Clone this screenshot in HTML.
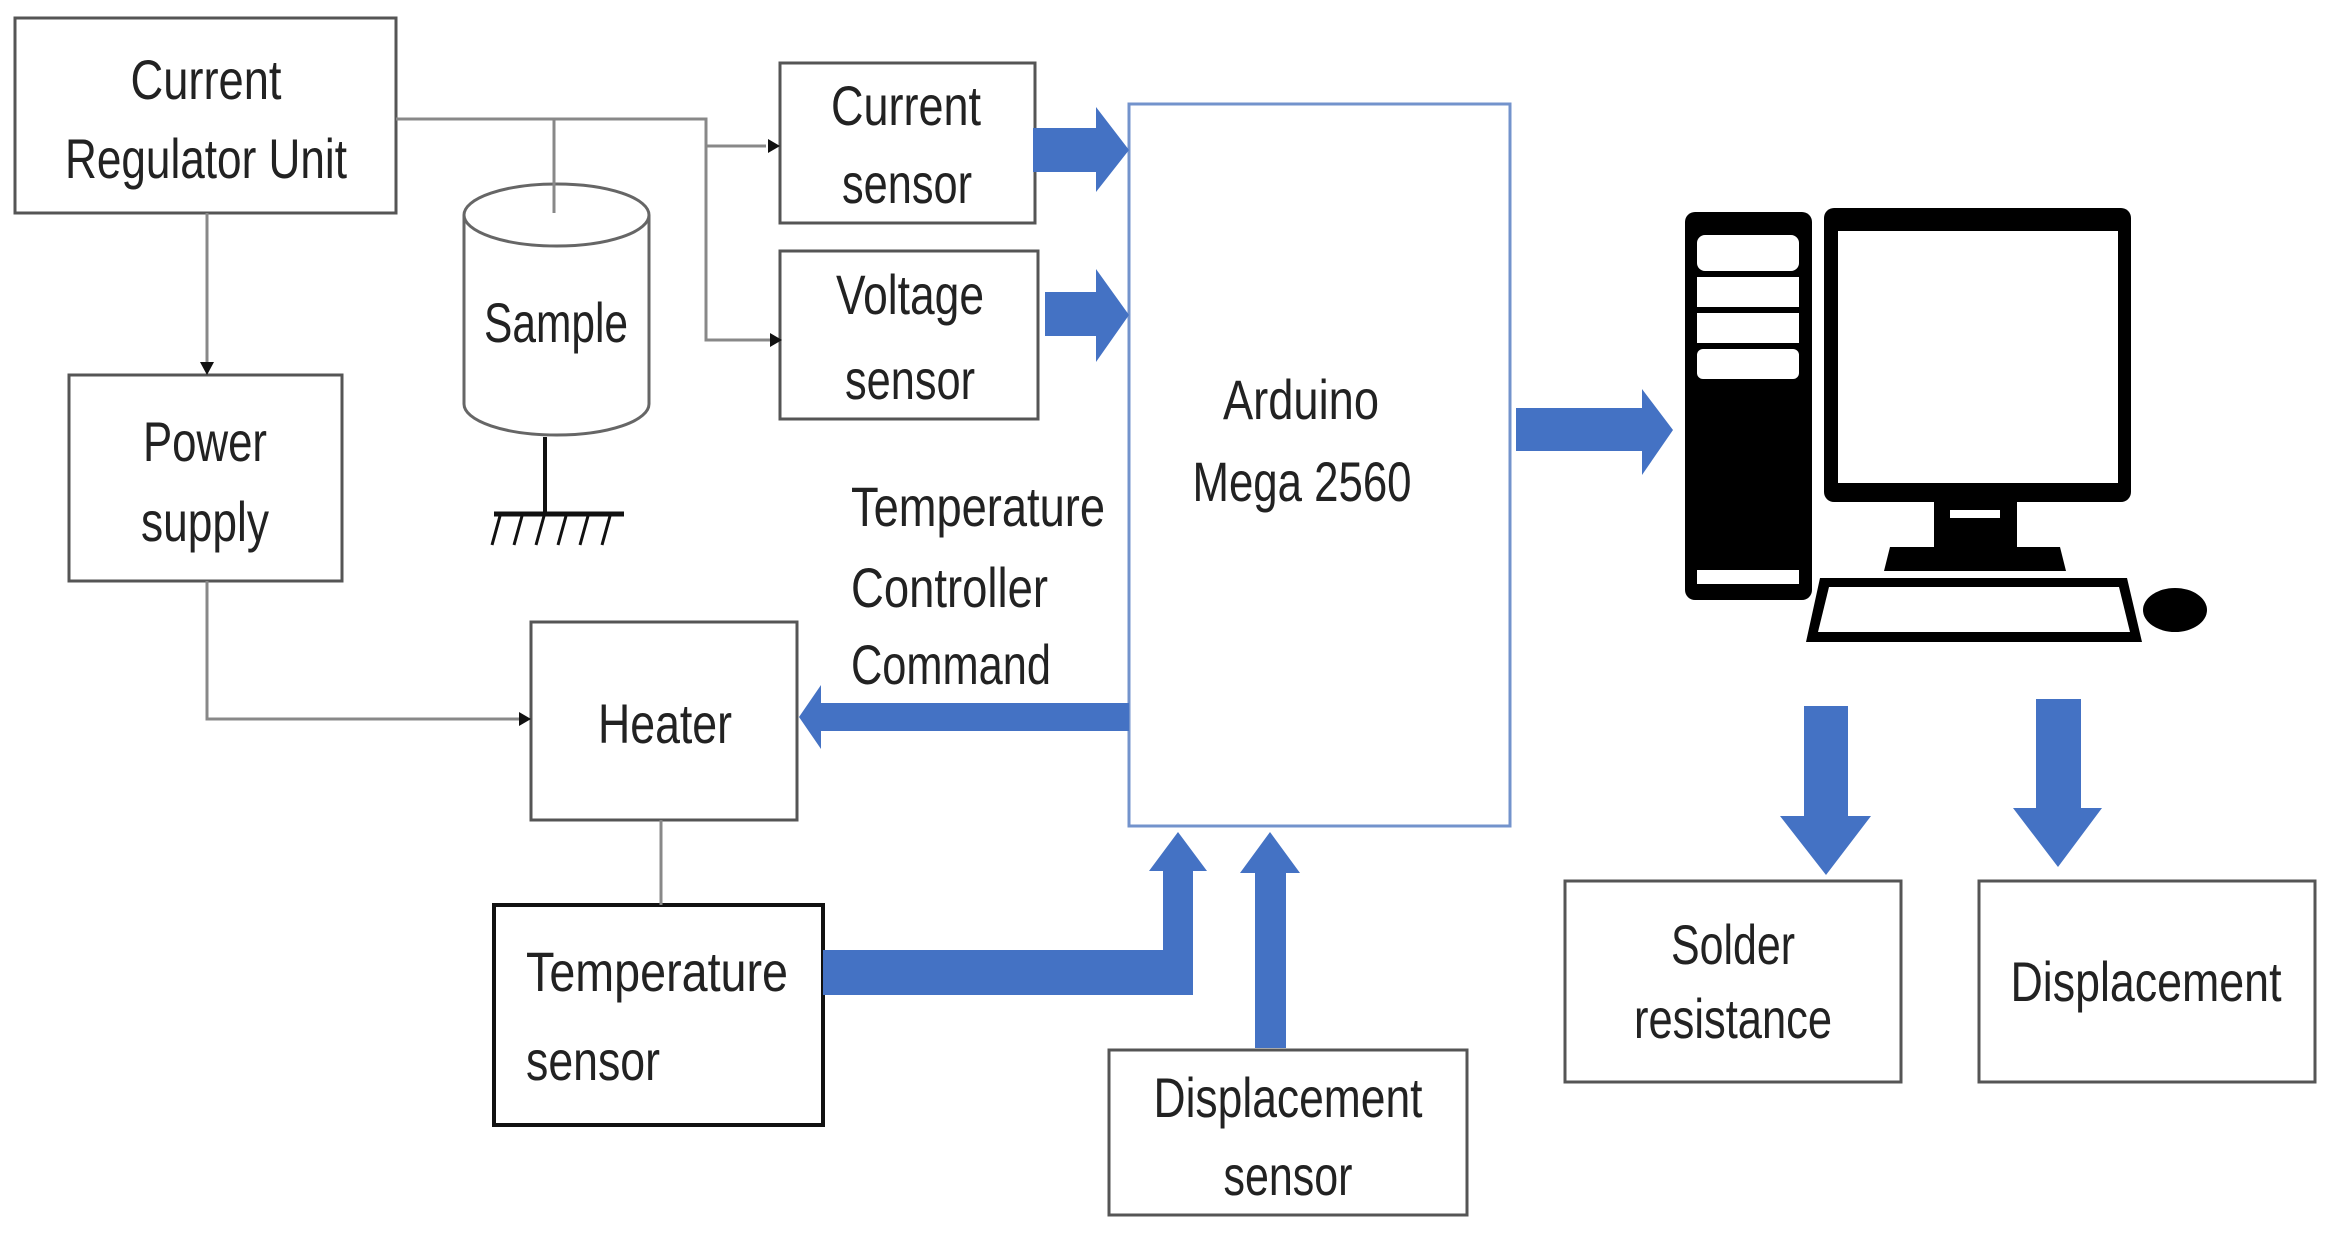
<!DOCTYPE html>
<html><head><meta charset="utf-8"><style>html,body{margin:0;padding:0;background:#fff}svg{display:block}</style></head>
<body>
<svg width="2331" height="1233" viewBox="0 0 2331 1233" xmlns="http://www.w3.org/2000/svg" font-family="Liberation Sans, sans-serif" font-size="56" fill="#222">
<rect width="2331" height="1233" fill="#fff"/>
<g fill="none" stroke="#555" stroke-width="3">
<rect x="15" y="18" width="381" height="195"/>
<rect x="780" y="63" width="255" height="160"/>
<rect x="780" y="251" width="258" height="168"/>
<rect x="69" y="375" width="273" height="206"/>
<rect x="531" y="622" width="266" height="198"/>
<rect x="1565" y="881" width="336" height="201"/>
<rect x="1979" y="881" width="336" height="201"/>
<rect x="1109" y="1050" width="358" height="165"/>
</g>
<rect x="494" y="905" width="329" height="220" fill="none" stroke="#111" stroke-width="4"/>
<rect x="1129" y="104" width="381" height="722" fill="none" stroke="#7393cc" stroke-width="3"/>
<g fill="none" stroke="#888" stroke-width="3">
<polyline points="396,119 706,119 706,340 772,340"/>
<polyline points="706,146 766,146"/>
<line x1="554" y1="119" x2="554" y2="213"/>
<line x1="207" y1="213" x2="207" y2="366"/>
<polyline points="207,581 207,719 522,719"/>
<line x1="661" y1="820" x2="661" y2="905"/>
</g>
<g fill="#111">
<polygon points="780,146 768,139 768,153"/>
<polygon points="782,340 770,333 770,347"/>
<polygon points="207,375 200,362 214,362"/>
<polygon points="531,719 519,712 519,726"/>
</g>
<!-- cylinder -->
<path d="M464,215 L464,404 A92.5,31 0 0 0 649,404 L649,215" fill="none" stroke="#666" stroke-width="3"/>
<ellipse cx="556.5" cy="215" rx="92.5" ry="31" fill="none" stroke="#666" stroke-width="3"/>
<line x1="554" y1="119" x2="554" y2="213" stroke="#888" stroke-width="3"/>
<line x1="545" y1="437" x2="545" y2="514" stroke="#111" stroke-width="4"/>
<line x1="494" y1="514" x2="624" y2="514" stroke="#111" stroke-width="5"/>
<g stroke="#111" stroke-width="3">
<line x1="500" y1="516" x2="492" y2="545"/><line x1="522" y1="516" x2="514" y2="545"/><line x1="544" y1="516" x2="536" y2="545"/><line x1="566" y1="516" x2="558" y2="545"/><line x1="588" y1="516" x2="580" y2="545"/><line x1="610" y1="516" x2="602" y2="545"/>
</g>
<!-- blue arrows -->
<g fill="#4472C4">
<polygon points="1033,128 1096,128 1096,107 1129,150 1096,192 1096,172 1033,172"/>
<polygon points="1045,292 1096,292 1096,269 1129,315 1096,362 1096,336 1045,336"/>
<polygon points="1129,703 821,703 821,685 799,717 821,749 821,731 1129,731"/>
<polygon points="823,950 1163,950 1163,871 1149,871 1178,832 1207,871 1193,871 1193,995 823,995"/>
<polygon points="1255,1048 1255,873 1240,873 1270,832 1300,873 1286,873 1286,1048"/>
<polygon points="1516,408 1642,408 1642,389 1673,430 1642,475 1642,451 1516,451"/>
<polygon points="1804,706 1848,706 1848,816 1871,816 1826,875 1780,816 1804,816"/>
<polygon points="2036,699 2081,699 2081,808 2102,808 2058,867 2013,808 2036,808"/>
</g>
<!-- computer -->
<g>
<rect x="1685" y="212" width="127" height="388" rx="10" fill="#000"/>
<rect x="1697" y="235" width="102" height="36" rx="8" fill="#fff"/>
<rect x="1697" y="277" width="102" height="30" fill="#fff"/>
<rect x="1697" y="313" width="102" height="30" fill="#fff"/>
<rect x="1697" y="349" width="102" height="30" rx="6" fill="#fff"/>
<rect x="1697" y="570" width="102" height="14" fill="#fff"/>
<rect x="1824" y="208" width="307" height="294" rx="10" fill="#000"/>
<rect x="1838" y="231" width="280" height="252" fill="#fff"/>
<rect x="1934" y="500" width="83" height="50" fill="#000"/>
<rect x="1950" y="510" width="50" height="8" fill="#fff"/>
<polygon points="1890,547 2060,547 2066,571 1884,571" fill="#000"/>
<polygon points="1820,578 2127,578 2142,642 1806,642" fill="#000"/>
<polygon points="1829,587 2119,587 2130,632 1818,632" fill="#fff"/>
<ellipse cx="2175" cy="610" rx="32" ry="22" fill="#000"/>
</g>
<!-- text -->
<g text-anchor="middle" lengthAdjust="spacingAndGlyphs">
<text x="206" y="99" textLength="151" lengthAdjust="spacingAndGlyphs">Current</text>
<text x="206" y="178" textLength="282" lengthAdjust="spacingAndGlyphs">Regulator Unit</text>
<text x="906" y="125" textLength="150" lengthAdjust="spacingAndGlyphs">Current</text>
<text x="907" y="203" textLength="130" lengthAdjust="spacingAndGlyphs">sensor</text>
<text x="910" y="314" textLength="148" lengthAdjust="spacingAndGlyphs">Voltage</text>
<text x="910" y="399" textLength="130" lengthAdjust="spacingAndGlyphs">sensor</text>
<text x="556" y="342" textLength="144" lengthAdjust="spacingAndGlyphs">Sample</text>
<text x="205" y="461" textLength="124" lengthAdjust="spacingAndGlyphs">Power</text>
<text x="205" y="541" textLength="128" lengthAdjust="spacingAndGlyphs">supply</text>
<text x="665" y="743" textLength="134" lengthAdjust="spacingAndGlyphs">Heater</text>
<text x="1301" y="419" textLength="156" lengthAdjust="spacingAndGlyphs">Arduino</text>
<text x="1302" y="501" textLength="219" lengthAdjust="spacingAndGlyphs">Mega 2560</text>
<text x="1733" y="964" textLength="124" lengthAdjust="spacingAndGlyphs">Solder</text>
<text x="1733" y="1038" textLength="198" lengthAdjust="spacingAndGlyphs">resistance</text>
<text x="2146" y="1001" textLength="271" lengthAdjust="spacingAndGlyphs">Displacement</text>
<text x="1288" y="1117" textLength="269" lengthAdjust="spacingAndGlyphs">Displacement</text>
<text x="1288" y="1195" textLength="129" lengthAdjust="spacingAndGlyphs">sensor</text>
</g>
<g>
<text x="851" y="526" textLength="254" lengthAdjust="spacingAndGlyphs">Temperature</text>
<text x="851" y="607" textLength="197" lengthAdjust="spacingAndGlyphs">Controller</text>
<text x="851" y="684" textLength="200" lengthAdjust="spacingAndGlyphs">Command</text>
<text x="526" y="991" textLength="262" lengthAdjust="spacingAndGlyphs">Temperature</text>
<text x="526" y="1080" textLength="134" lengthAdjust="spacingAndGlyphs">sensor</text>
</g>
</svg>
</body></html>
